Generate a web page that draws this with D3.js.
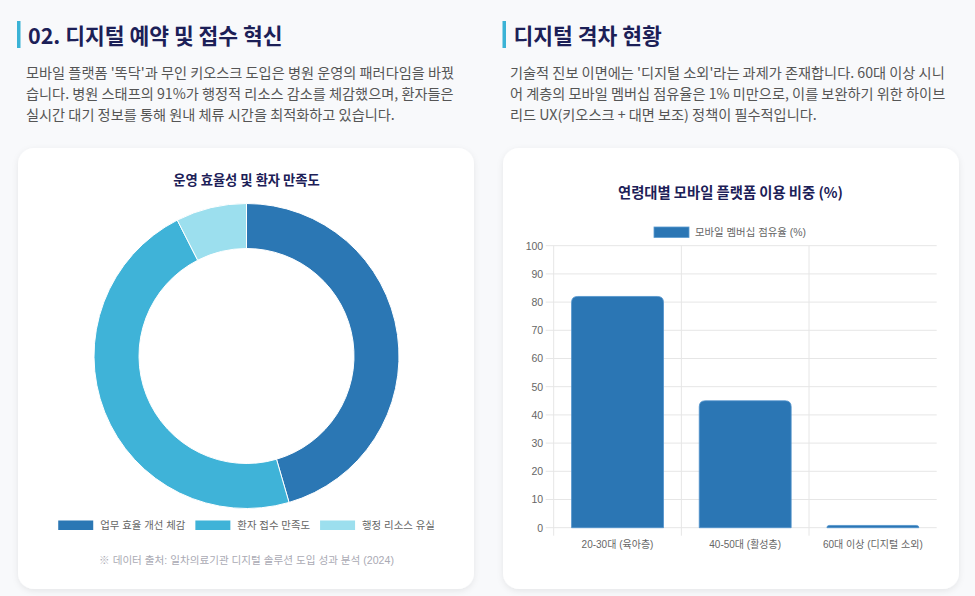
<!DOCTYPE html>
<html>
<head>
<meta charset="utf-8">
<script src="https://cdn.jsdelivr.net/npm/d3@7"></script>
<style>
  html, body { margin: 0; padding: 0; background: #f8f9fb; }
  svg { display: block; }
</style>
</head>
<body>
<div id="page"></div>
<script>
// donut data
var donutLabels = ["업무 효율 개선 체감", "환자 접수 만족도", "행정 리소스 유실"];
var donutValues = [91, 94, 15];
var donutColors = ["#2b77b4", "#3fb3d8", "#9cdfee"];

// bar data
var ageLabels = ["20-30대 (육아층)", "40-50대 (활성층)", "60대 이상 (디지털 소외)"];
var ageShare = [82, 45, 0.8];
var barSeriesName = "모바일 멤버십 점유율 (%)";

var leftText = [
    "모바일 플랫폼 '똑닥'과 무인 키오스크 도입은 병원 운영의 패러다임을 바꿨",
    "습니다. 병원 스태프의 91%가 행정적 리소스 감소를 체감했으며, 환자들은",
    "실시간 대기 정보를 통해 원내 체류 시간을 최적화하고 있습니다."
];
var rightText = [
    "기술적 진보 이면에는 '디지털 소외'라는 과제가 존재합니다. 60대 이상 시니",
    "어 계층의 모바일 멤버십 점유율은 1% 미만으로, 이를 보완하기 위한 하이브",
    "리드 UX(키오스크 + 대면 보조) 정책이 필수적입니다."
];

var krFont = "'Noto Sans CJK KR', 'Noto Sans', sans-serif";
var chartFont = "'Liberation Sans', Arial, 'Noto Sans CJK KR', sans-serif";
var navy = "#1c2057";

var svg = d3.select("#page").append("svg")
    .attr("width", 975)
    .attr("height", 596);

var defs = svg.append("defs");
var shadow = defs.append("filter").attr("id", "shadow")
    .attr("x", "-10%").attr("y", "-10%").attr("width", "120%").attr("height", "120%");
shadow.append("feDropShadow")
    .attr("dx", 0).attr("dy", 2).attr("stdDeviation", 3)
    .attr("flood-color", "#000").attr("flood-opacity", 0.08);

svg.append("rect").attr("width", 975).attr("height", 596).attr("fill", "#f8f9fb");

// section headers + paragraphs
function section(x, title, lines, textX) {
    svg.append("rect")
        .attr("x", x).attr("y", 21).attr("width", 3.5).attr("height", 27)
        .attr("fill", "#3bb3d6");
    svg.append("text")
        .attr("x", x + 11).attr("y", 44)
        .attr("font-family", krFont).attr("font-weight", 700)
        .attr("font-size", 21.5).attr("fill", navy)
        .text(title);
    svg.append("g").selectAll("text")
        .data(lines)
        .enter().append("text")
            .attr("x", textX)
            .attr("y", function(d, i) { return 78 + i * 21; })
            .attr("font-family", krFont).attr("font-size", 14.2)
            .attr("fill", "#555")
            .text(function(d) { return d; });
}
section(17, "02. 디지털 예약 및 접수 혁신", leftText, 26);
section(502.5, "디지털 격차 현황", rightText, 510);

// cards
[18, 503].forEach(function(cx) {
    svg.append("rect")
        .attr("x", cx).attr("y", 148).attr("width", 456).attr("height", 441)
        .attr("rx", 16).attr("fill", "#fff")
        .attr("filter", "url(#shadow)");
});

// ---------- donut ----------
var dcx = 246.5, dcy = 356;
svg.append("text")
    .attr("x", dcx).attr("y", 184.5)
    .attr("text-anchor", "middle")
    .attr("font-family", krFont).attr("font-weight", 700)
    .attr("font-size", 13.3).attr("fill", navy)
    .text("운영 효율성 및 환자 만족도");

var pie = d3.pie().sort(null).value(function(d) { return d; });
var arc = d3.arc().innerRadius(107.5).outerRadius(152.5);

svg.append("g")
    .attr("transform", "translate(" + dcx + "," + dcy + ")")
    .selectAll("path")
    .data(pie(donutValues))
    .enter().append("path")
        .attr("d", arc)
        .attr("fill", function(d, i) { return donutColors[i]; })
        .attr("stroke", "#fff")
        .attr("stroke-width", 1);

// donut legend, centred under the chart
var dleg = svg.append("g");
var items = dleg.selectAll("g")
    .data(donutLabels)
    .enter().append("g");
items.append("rect")
    .attr("y", 520.5).attr("width", 35).attr("height", 9.5)
    .attr("fill", function(d, i) { return donutColors[i]; });
items.append("text")
    .attr("y", 528.5)
    .attr("font-family", chartFont).attr("font-size", 10.4)
    .attr("fill", "#666")
    .text(function(d) { return d; });
var widths = [];
items.each(function() {
    widths.push(35 + 7 + d3.select(this).select("text").node().getComputedTextLength());
});
var total = d3.sum(widths) + 10 * (widths.length - 1);
var pos = dcx - total / 2;
items.each(function(d, i) {
    d3.select(this).select("rect").attr("x", pos);
    d3.select(this).select("text").attr("x", pos + 42);
    pos += widths[i] + 10;
});

svg.append("text")
    .attr("x", dcx).attr("y", 564)
    .attr("text-anchor", "middle")
    .attr("font-family", chartFont).attr("font-size", 10.6)
    .attr("fill", "#aaaab4")
    .text("※ 데이터 출처: 일차의료기관 디지털 솔루션 도입 성과 분석 (2024)");

// ---------- bar chart ----------
var plotL = 553.7, plotR = 936.7, plotT = 245.7, plotB = 527.7;
var barColor = "#2b76b4";

svg.append("text")
    .attr("x", 730.5).attr("y", 198)
    .attr("text-anchor", "middle")
    .attr("font-family", krFont).attr("font-weight", 700)
    .attr("font-size", 14.3).attr("fill", navy)
    .text("연령대별 모바일 플랫폼 이용 비중 (%)");

// legend
svg.append("rect")
    .attr("x", 654).attr("y", 227).attr("width", 35).attr("height", 10.5)
    .attr("fill", barColor).attr("stroke", "#5b9bd0").attr("stroke-width", 0.8);
svg.append("text")
    .attr("x", 695).attr("y", 236)
    .attr("font-family", chartFont).attr("font-size", 10.4)
    .attr("fill", "#666")
    .text(barSeriesName);

var x = d3.scaleBand().domain(ageLabels).range([plotL, plotR]);
var y = d3.scaleLinear().domain([0, 100]).range([plotB, plotT]);

// horizontal grid + y ticks
var gy = svg.append("g");
gy.selectAll("line")
    .data(y.ticks(10))
    .enter().append("line")
        .attr("x1", plotL - 8).attr("x2", plotR)
        .attr("y1", function(d) { return y(d); })
        .attr("y2", function(d) { return y(d); })
        .attr("stroke", "#e6e6e6").attr("stroke-width", 1);
gy.selectAll("text")
    .data(y.ticks(10))
    .enter().append("text")
        .attr("x", plotL - 10.5)
        .attr("y", function(d) { return y(d) + 3.8; })
        .attr("text-anchor", "end")
        .attr("font-family", chartFont).attr("font-size", 10.5)
        .attr("fill", "#666")
        .text(function(d) { return d; });

// vertical grid at category edges
svg.append("g").selectAll("line")
    .data(ageLabels)
    .enter().append("line")
        .attr("x1", function(d) { return x(d); })
        .attr("x2", function(d) { return x(d); })
        .attr("y1", plotT).attr("y2", plotB + 8)
        .attr("stroke", "#e6e6e6").attr("stroke-width", 1);

// bars with rounded top corners
var bw = x.bandwidth() * 0.72;
function barPath(x0, y0, w, h, r) {
    r = Math.min(r, h, w / 2);
    return "M" + x0 + "," + (y0 + h) +
        "V" + (y0 + r) +
        "Q" + x0 + "," + y0 + " " + (x0 + r) + "," + y0 +
        "H" + (x0 + w - r) +
        "Q" + (x0 + w) + "," + y0 + " " + (x0 + w) + "," + (y0 + r) +
        "V" + (y0 + h) + "Z";
}
svg.append("g").selectAll("path")
    .data(ageShare)
    .enter().append("path")
        .attr("d", function(d, i) {
            var bx = x(ageLabels[i]) + (x.bandwidth() - bw) / 2;
            return barPath(bx, y(d), bw, y(0) - y(d), 6);
        })
        .attr("fill", barColor)
        .attr("stroke", "#4f92cb").attr("stroke-width", 0.8);

// x labels
svg.append("g").selectAll("text")
    .data(ageLabels)
    .enter().append("text")
        .attr("x", function(d) { return x(d) + x.bandwidth() / 2; })
        .attr("y", 548)
        .attr("text-anchor", "middle")
        .attr("font-family", chartFont).attr("font-size", 10)
        .attr("fill", "#666")
        .text(function(d) { return d; });
</script>
</body>
</html>
